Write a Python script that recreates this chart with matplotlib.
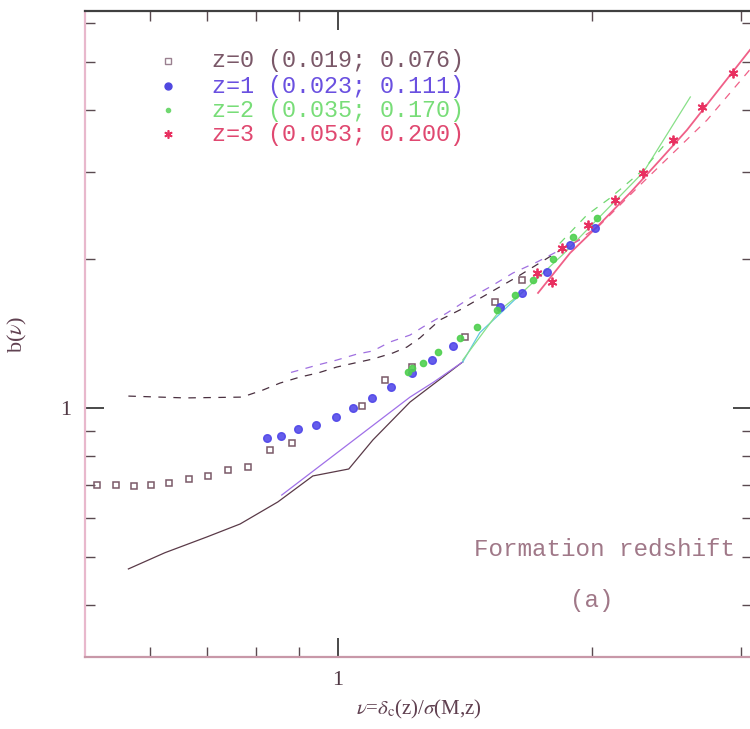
import numpy as np
import matplotlib
matplotlib.use('Agg')
import matplotlib.pyplot as plt
from matplotlib.ticker import FixedLocator, NullFormatter

nu_z0 = [0.519, 0.546, 0.574, 0.601, 0.631, 0.666, 0.702, 0.741, 0.782, 0.831,
         0.882, 1.068, 1.137, 1.223, 1.413, 1.534, 1.651]
b_z0 = [0.699, 0.699, 0.696, 0.699, 0.706, 0.719, 0.729, 0.749, 0.760, 0.823,
        0.850, 1.009, 1.139, 1.210, 1.391, 1.637, 1.814]

nu_z1 = [0.824, 0.856, 0.897, 0.942, 0.994, 1.042, 1.097, 1.155, 1.223, 1.292,
         1.368, 1.555, 1.651, 1.767, 1.882, 2.014]
b_z1 = [0.870, 0.878, 0.907, 0.924, 0.959, 1.000, 1.048, 1.103, 1.177, 1.250,
        1.334, 1.600, 1.708, 1.883, 2.135, 2.310]

nu_z2 = [1.210, 1.223, 1.261, 1.313, 1.394, 1.461, 1.543, 1.620, 1.701, 1.797,
         1.897, 2.025]
b_z2 = [1.182, 1.204, 1.233, 1.298, 1.385, 1.458, 1.578, 1.692, 1.814, 2.000,
        2.216, 2.420]

nu_z3 = [1.720, 1.792, 1.841, 1.977, 2.127, 2.296, 2.491, 2.697, 2.935]
b_z3 = [1.874, 1.797, 2.105, 2.343, 2.632, 2.984, 3.478, 4.057, 4.752]

# formation-redshift curves
nu_dash0 = [0.565, 0.660, 0.770, 0.815, 0.854, 0.902, 0.947, 0.997, 1.047, 1.100,
            1.162, 1.207, 1.250, 1.320, 1.394, 1.629, 1.830]
b_dash0 = [1.057, 1.048, 1.052, 1.087, 1.123, 1.155, 1.177, 1.210, 1.233, 1.256,
           1.292, 1.328, 1.385, 1.506, 1.578, 1.840, 2.080]
nu_dash1 = [0.880, 0.947, 0.997, 1.053, 1.100, 1.152, 1.217, 1.261, 1.346, 1.433,
            1.513, 1.611, 1.720, 1.831, 1.933]
b_dash1 = [1.180, 1.222, 1.250, 1.285, 1.304, 1.359, 1.404, 1.458, 1.556, 1.668,
           1.756, 1.874, 1.972, 2.085, 2.185]
nu_dash2 = [1.830, 1.971, 2.099, 2.296, 2.451]
b_dash2 = [2.150, 2.455, 2.656, 3.026, 3.446]
nu_dash3 = [1.900, 2.042, 2.277, 2.734, 3.070]
b_dash3 = [2.150, 2.343, 2.820, 3.818, 4.820]

nu_sol0 = [0.565, 0.624, 0.700, 0.766, 0.849, 0.934, 1.030, 1.100, 1.217, 1.405]
b_sol0 = [0.473, 0.510, 0.549, 0.583, 0.646, 0.729, 0.753, 0.862, 1.028, 1.239]
nu_sol1 = [0.858, 1.217, 1.300, 1.405]
b_sol1 = [0.667, 1.052, 1.130, 1.239]
nu_solc = [1.405, 1.472, 1.555, 1.655]
b_solc = [1.239, 1.420, 1.550, 1.716]
nu_sol2 = [1.405, 1.555, 1.655, 1.850, 2.300, 2.612]
b_sol2 = [1.250, 1.578, 1.716, 2.050, 3.000, 4.250]
nu_sol3 = [1.725, 1.882, 2.025, 2.216, 2.405, 2.588, 3.073]
b_sol3 = [1.708, 2.056, 2.321, 2.719, 3.170, 3.644, 5.290]

labels = ['z=0 (0.019; 0.076)', 'z=1 (0.023; 0.111)',
          'z=2 (0.035; 0.170)', 'z=3 (0.053; 0.200)']
text_cols = ['#7a5868', '#6a50e0', '#78dd78', '#e04870']

plt.rcParams['mathtext.fontset'] = 'stix'

fig = plt.figure(figsize=(7.5, 7.29), dpi=100)
ax = fig.add_axes([85/750, 72/729, 667/750, 646/729])
ax.set_xscale('log')
ax.set_yscale('log')

lw = 0.9
dash = (0, (6, 6))
ax.plot(nu_sol0, b_sol0, color='#5a3a48', lw=lw)
ax.plot(nu_sol1, b_sol1, color='#a070e8', lw=lw)
ax.plot(nu_solc, b_solc, color='#60c8e0', lw=lw)
ax.plot(nu_sol2, b_sol2, color='#88e088', lw=lw)
ax.plot(nu_sol3, b_sol3, color='#f06088', lw=1.3)
ax.plot(nu_dash0, b_dash0, color='#4a3040', lw=lw, ls=dash)
ax.plot(nu_dash1, b_dash1, color='#a070e0', lw=lw, ls=dash)
ax.plot(nu_dash2, b_dash2, color='#70d870', lw=lw, ls=dash)
ax.plot(nu_dash3, b_dash3, color='#f06088', lw=lw, ls=dash)

ax.plot(nu_z0, b_z0, ls='none', marker='s', ms=4.5, mfc='none', mec='#7a5a68', mew=1.1)
ax.plot(nu_z1, b_z1, ls='none', marker='o', ms=5.5, color='#4a40e8', alpha=0.85)
ax.plot(nu_z2, b_z2, ls='none', marker='o', ms=4.5, color='#50d050', alpha=0.9)
ax.plot(nu_z3, b_z3, ls='none', marker=(6, 2, 0), ms=7, mew=1.3, color='#e83060')

ax.set_xlim(0.502, 3.09)
ax.set_ylim(0.314, 6.34)

# legend drawn by hand, positions in axes fraction
leg_y = [61, 86, 110, 134]
xm = (168 - 85) / 667
for i, (lab, c) in enumerate(zip(labels, text_cols)):
    yf = 1 - (leg_y[i] - 11) / 646
    if i == 0:
        ax.plot(xm, yf, transform=ax.transAxes, marker='s', ms=4, mfc='none', mec='#9a8090', mew=1)
    elif i == 1:
        ax.plot(xm, yf, transform=ax.transAxes, marker='o', ms=5, color='#5048e0')
    elif i == 2:
        ax.plot(xm, yf, transform=ax.transAxes, marker='o', ms=3, color='#70d870')
    else:
        ax.plot(xm, yf, transform=ax.transAxes, marker=(6, 2, 0), ms=6, mew=1.2, color='#e83060')
    ax.text((212 - 85) / 667, yf, lab, transform=ax.transAxes, color=c,
            family='Liberation Mono', fontsize=16.8, va='center', ha='left')

ax.text((605 - 85) / 667, 1 - (549 - 11) / 646, 'Formation redshift', transform=ax.transAxes,
        color='#a07888', family='Liberation Mono', fontsize=17.5, va='center', ha='center')
ax.text((592 - 85) / 667, 1 - (600 - 11) / 646, '(a)', transform=ax.transAxes,
        color='#a07888', family='Liberation Mono', fontsize=17.5, va='center', ha='center')

# ticks
ax.xaxis.set_major_locator(FixedLocator([1]))
ax.xaxis.set_minor_locator(FixedLocator([0.6, 0.7, 0.8, 0.9, 2, 3]))
ax.yaxis.set_major_locator(FixedLocator([1]))
ax.yaxis.set_minor_locator(FixedLocator([0.4, 0.5, 0.6, 0.7, 0.8, 0.9, 2, 3, 4, 5, 6]))
ax.xaxis.set_minor_formatter(NullFormatter())
ax.yaxis.set_minor_formatter(NullFormatter())
ax.set_xticklabels(['1'])
ax.set_yticklabels(['1'])
ax.tick_params(which='major', direction='in', top=True, right=True, length=14,
               width=1.2, color='#2a2a2a', labelsize=16, labelcolor='#503844', pad=10)
ax.tick_params(which='minor', direction='in', top=True, right=True, length=7,
               width=1.0, color='#5a4a50')
for lab in ax.get_xticklabels() + ax.get_yticklabels():
    lab.set_family('Liberation Serif')

ax.spines['left'].set_color('#e8b8cc')
ax.spines['bottom'].set_color('#c898a8')
ax.spines['right'].set_color('#e8b8cc')
ax.spines['top'].set_color('#404040')
for s in ax.spines.values():
    s.set_linewidth(1.6)

ax.set_xlabel(r'$\nu$=$\delta_{\rm c}$(z)/$\sigma$(M,z)', family='Liberation Serif',
              fontsize=15, color='#604050', labelpad=6)
ax.set_ylabel(r'b($\nu$)', family='Liberation Serif', fontsize=16, color='#604050', labelpad=22)

fig.savefig('out.png', dpi=100)
